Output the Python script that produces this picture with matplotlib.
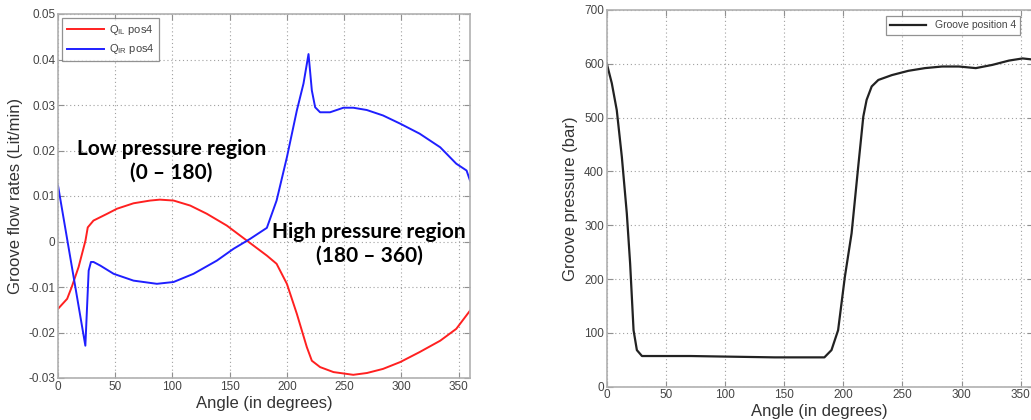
import matplotlib
matplotlib.use("Agg")
import matplotlib.pyplot as plt

plt.rcParams["font.family"] = ["Liberation Sans", "DejaVu Sans"]
plt.rcParams["mathtext.fontset"] = "custom"
plt.rcParams["mathtext.rm"] = "Liberation Sans"

# Groove flow rates at groove position 4 (Lit/min) vs. shaft angle (deg)
q_il_angle = [0, 8, 12, 18, 24, 26, 31, 43, 51.5, 66, 80.5, 89, 101, 115.5, 130,
              147.5, 165, 182.5, 191, 200, 208.7, 217.4, 221.8, 229, 240.7, 258,
              270, 284, 299, 316, 334, 348, 360]
q_il_value = [-0.0148, -0.0126, -0.0100, -0.0056, 0.0002, 0.0031, 0.0046, 0.0061,
              0.0072, 0.0084, 0.0090, 0.0092, 0.0090, 0.0079, 0.0061, 0.0035,
              0.0002, -0.0031, -0.0049, -0.0093, -0.0159, -0.0232, -0.0262,
              -0.0276, -0.0287, -0.0293, -0.0289, -0.0280, -0.0265, -0.0243,
              -0.0218, -0.0192, -0.0152]

q_ir_angle = [0, 23.9, 26.8, 28.8, 31, 37, 48.6, 66, 86.4, 101, 118.4, 138.8,
              153.4, 168, 182.5, 191, 200, 208.7, 214.5, 218.9, 221.8, 224.7,
              229, 237.7, 249.4, 258, 269.8, 284, 299, 316, 334, 348, 357, 360]
q_ir_value = [0.0123, -0.0229, -0.0064, -0.0045, -0.0045, -0.0053, -0.0071,
              -0.0086, -0.0093, -0.0089, -0.0071, -0.0042, -0.0016, 0.0006,
              0.0030, 0.0090, 0.0185, 0.0288, 0.0347, 0.0412, 0.0332, 0.0295,
              0.0284, 0.0284, 0.0294, 0.0294, 0.0289, 0.0277, 0.0259, 0.0237,
              0.0207, 0.0171, 0.0156, 0.0134]

# Groove pressure at position 4 (bar)
p_angle = [0, 4.3, 8.5, 12.8, 17, 19.8, 22.7, 25.5, 29.8, 71, 99, 142, 184, 190,
           195.6, 201.3, 207, 212.6, 216.9, 219.7, 224, 229.6, 241, 255, 269,
           283.5, 297.7, 312, 326, 340, 351.5, 360]
p_value = [601, 564, 514, 427, 322, 229, 105, 68, 57, 57, 56, 54.5, 54.5, 68, 105,
           204, 285, 409, 502, 533, 558, 570, 579, 587, 592, 595, 595, 592, 598,
           606, 610, 608]

x_ticks = [0, 50, 100, 150, 200, 250, 300, 350]
flow_ticks = [-0.03, -0.02, -0.01, 0, 0.01, 0.02, 0.03, 0.04, 0.05]
flow_tick_labels = ["-0.03", "-0.02", "-0.01", "0", "0.01", "0.02", "0.03", "0.04", "0.05"]
pressure_ticks = [0, 100, 200, 300, 400, 500, 600, 700]

tick_color = "#444444"
spine_color = "#b0b0b0"

fig = plt.figure(figsize=(10.31, 4.2), dpi=100)
ax1 = fig.add_axes([58 / 1031, 1 - 378 / 420, 412 / 1031, 364 / 420])
ax2 = fig.add_axes([606.7 / 1031, 1 - 386.7 / 420, 425.9 / 1031, 376.7 / 420])


def style_axes(ax):
    ax.grid(True, linestyle=(0, (1, 2.5)), color="#a0a0a0", linewidth=0.8)
    ax.set_axisbelow(True)
    for s in ax.spines.values():
        s.set_color(spine_color)
        s.set_linewidth(1.2)
    ax.tick_params(direction="in", top=True, right=True, length=4,
                   color="#909090", labelsize=8.5, labelcolor=tick_color, pad=2)


ax1.plot(q_il_angle, q_il_value, color="#ff2020", linewidth=1.4,
         label=r"Q$_{\rm IL}$ pos4")
ax1.plot(q_ir_angle, q_ir_value, color="#1f1fff", linewidth=1.4,
         label=r"Q$_{\rm IR}$ pos4")
ax1.set_xlim(0, 360)
ax1.set_ylim(-0.03, 0.05)
ax1.set_xticks(x_ticks)
ax1.set_yticks(flow_ticks)
ax1.set_yticklabels(flow_tick_labels)
style_axes(ax1)
ax1.set_xlabel("Angle (in degrees)", fontsize=12, color="#333333", labelpad=2)
ax1.set_ylabel("Groove flow rates (Lit/min)", fontsize=12, color="#333333", labelpad=4)
leg1 = ax1.legend(loc="upper left", fontsize=8, frameon=True, fancybox=False,
                  edgecolor="#777777", handlelength=3.3, borderaxespad=0.4,
                  labelspacing=0.5, borderpad=0.4, handletextpad=0.5)
leg1.get_frame().set_linewidth(0.9)
for t in leg1.get_texts():
    t.set_color(tick_color)

ax1.text(99, 0.0178, "Low pressure region\n(0 \u2013 180)", ha="center", va="center",
         fontsize=15, fontweight="bold", family="Lato", linespacing=1.25,
         color="#000000")
ax1.text(272, -0.0005, "High pressure region\n(180 \u2013 360)", ha="center",
         va="center", fontsize=15, fontweight="bold", family="Lato",
         linespacing=1.25, color="#000000")

ax2.plot(p_angle, p_value, color="#222222", linewidth=1.6, label="Groove position 4")
ax2.set_xlim(0, 360)
ax2.set_ylim(0, 700)
ax2.set_xticks(x_ticks)
ax2.set_yticks(pressure_ticks)
style_axes(ax2)
ax2.set_xlabel("Angle (in degrees)", fontsize=12, color="#333333", labelpad=2)
ax2.set_ylabel("Groove pressure (bar)", fontsize=12, color="#333333", labelpad=4)
leg2 = ax2.legend(loc="upper right", fontsize=7.5, frameon=True, fancybox=False,
                  edgecolor="#777777", handlelength=3.5, borderaxespad=0.6,
                  borderpad=0.4, bbox_to_anchor=(0.985, 1.0))
leg2.get_frame().set_linewidth(0.9)
for t in leg2.get_texts():
    t.set_color(tick_color)

fig.savefig("out.png", dpi=100)
